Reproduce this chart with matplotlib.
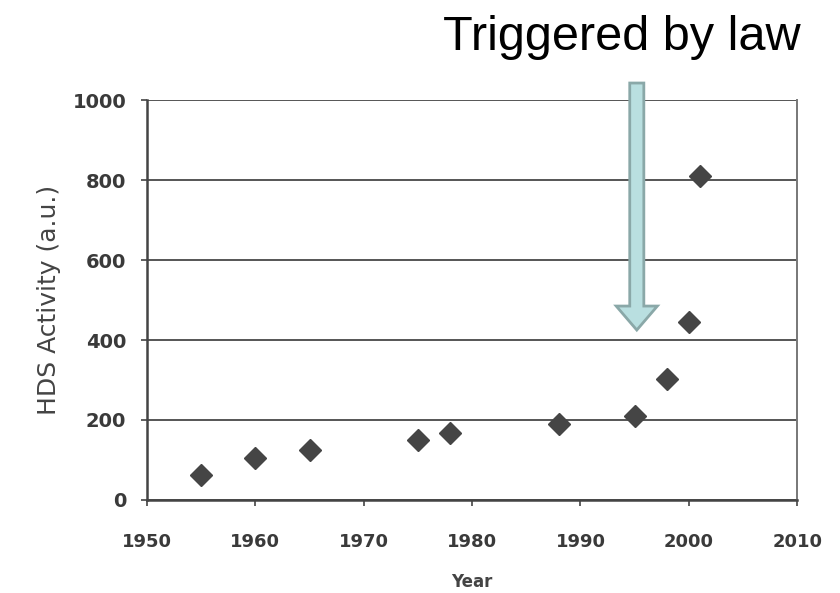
import matplotlib
matplotlib.use("Agg")
import matplotlib.pyplot as plt
from matplotlib.patches import FancyArrow

years = [1955, 1960, 1965, 1975, 1978, 1988, 1995, 1998, 2000, 2001]
activity = [62, 105, 125, 150, 168, 190, 210, 302, 445, 810]
x_ticks = [1950, 1960, 1970, 1980, 1990, 2000, 2010]
y_ticks = [0, 200, 400, 600, 800, 1000]
annotation = "Triggered by law"
arrow_year = 1995.2

plt.rcParams['font.family'] = ['DejaVu Sans']

fig = plt.figure(figsize=(8.4, 5.93), dpi=100)
ax = fig.add_axes([0.175, 0.157, 0.774, 0.674])

ax.set_xlim(1950, 2010)
ax.set_ylim(0, 1000)
ax.set_xticks(x_ticks)
ax.set_yticks(y_ticks)
ax.set_xticklabels([str(t) for t in x_ticks], fontsize=13, fontweight='bold')
ax.set_yticklabels([str(t) for t in y_ticks], fontsize=14, fontweight='bold')
ax.tick_params(axis='both', direction='out', length=4, width=1.2, colors='#444444')
ax.tick_params(axis='y', pad=11)
ax.tick_params(axis='x', pad=20)
for lab in ax.get_xticklabels() + ax.get_yticklabels():
    lab.set_color('#3a3a3a')

ax.yaxis.grid(True, color='#555555', linewidth=1.4)
ax.set_axisbelow(True)
for side in ['left', 'bottom']:
    ax.spines[side].set_color('#444444')
    ax.spines[side].set_linewidth(1.8)
ax.spines['right'].set_color('#777777')
ax.spines['right'].set_linewidth(1.4)
ax.spines['top'].set_visible(False)

ax.plot(years, activity, linestyle='none', marker='D', markersize=11,
        color='#454545', markeredgecolor='#454545', zorder=3)

ax.set_xlabel("Year", fontsize=12, fontweight='bold', color='#444444', labelpad=16)
ax.set_ylabel("HDS Activity (a.u.)", fontsize=18, color='#444444', labelpad=8)

# arrow from above the axes down into the plot
arr = FancyArrow(arrow_year, 1043, 0, -618, width=1.3, head_width=3.8, head_length=60,
                 length_includes_head=True, facecolor='#b9dfe0', edgecolor='#8aa8a8',
                 linewidth=2.0, clip_on=False, zorder=4, transform=ax.transData)
ax.add_patch(arr)

fig.text(0.740, 0.936, annotation, fontsize=35, ha='center', va='center',
         color='black', family=['Liberation Sans', 'DejaVu Sans'])

fig.savefig("out.png", dpi=100)
